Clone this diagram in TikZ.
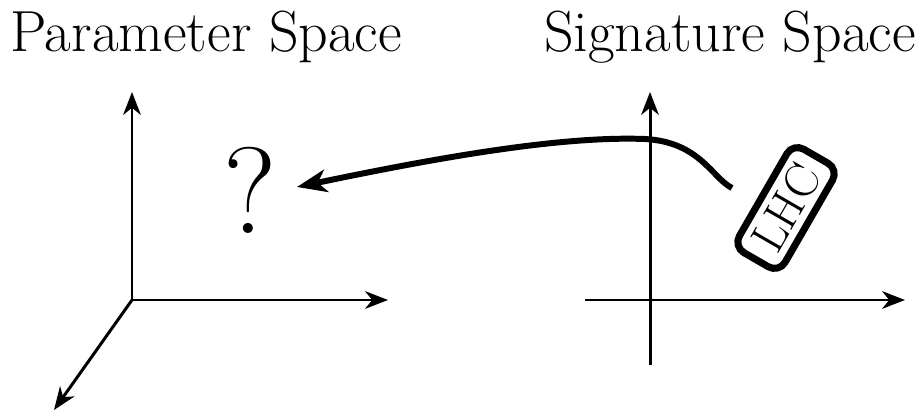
\documentclass[tikz,border=0pt]{standalone}
\usetikzlibrary{arrows.meta}
\tikzset{
  axis/.style={line width=1.7pt, -{Stealth[length=13pt, width=10pt, inset=4pt]}},
  signal/.style={line width=3.4pt, -{Stealth[length=17pt, width=13pt, inset=5pt]}},
  spacetitle/.style={anchor=base, font=\fontsize{33}{40}\selectfont},
  detector/.style={draw, line width=4pt, rounded corners=7pt, minimum width=68pt,
    minimum height=30pt, inner sep=1pt, rotate=60, font=\fontsize{27}{31}\selectfont}
}

\begin{document}
\begin{tikzpicture}[x=0.02cm, y=-0.02cm]
  \useasboundingbox (0,0) rectangle (919,411);
  % parameter space
  \node[spacetitle] (ptitle) at (206,52) {Parameter Space};
  \coordinate (po) at (132,300);
  \coordinate (py) at (132,92);
  \coordinate (px) at (388,300);
  \coordinate (pz) at (54,410);
  \draw[axis] (po) -- (py);
  \draw[axis] (po) -- (px);
  \draw[axis] (po) -- (pz);
  \node[anchor=base, font=\fontsize{70}{80}\selectfont, inner sep=0pt] (query) at (250,234) {?};

  % signature space
  \node[spacetitle] (stitle) at (730,52) {Signature Space};
  \coordinate (sy0) at (650,365);
  \coordinate (sy) at (650,92);
  \coordinate (sx0) at (585,300);
  \coordinate (sx) at (905,300);
  \draw[axis] (sy0) -- (sy);
  \draw[axis] (sx0) -- (sx);
  \node[detector] (lhc) at (786,208) {LHC};

  % inverse map
  \coordinate (sstart) at (732,188);
  \coordinate (speak) at (645,139);
  \coordinate (qtip) at (297,187);
  \draw[signal] (sstart) .. controls (712,178) and (700,142) .. (speak)
    .. controls (565,136) and (450,155) .. (qtip);
\end{tikzpicture}
\end{document}
